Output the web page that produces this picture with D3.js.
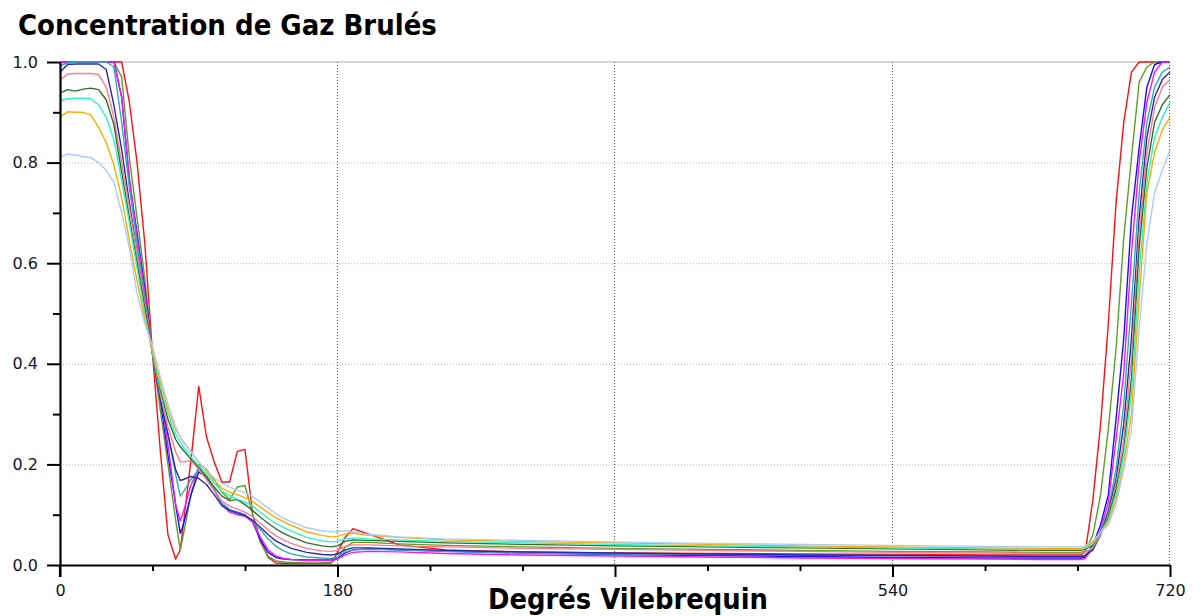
<!DOCTYPE html>
<html>
<head>
<meta charset="utf-8">
<script src="https://cdn.jsdelivr.net/npm/d3@7/dist/d3.min.js"></script>
<style>
  html, body { margin: 0; padding: 0; background: #fff; }
  svg { display: block; }
</style>
</head>
<body>
<svg id="chart" width="1200" height="616"></svg>
<script>
// Crank angle samples (degrees) shared by every curve
const degrees = [0,5,10,15,20,25,30,35,40,45,50,55,60,65,70,75,78,80,85,90,95,100,105,110,115,120,125,130,135,140,145,150,160,170,176,180,185,190,200,220,250,300,360,420,480,540,600,640,662,665,670,675,680,685,690,695,700,705,710,715,720];

// Burned gas concentration, one array per operating point
const serieRouge = [1,1,1,1,1,1,1,1,1,0.92,0.80,0.64,0.42,0.23,0.06,0.012,0.03,0.08,0.21,0.355,0.255,0.205,0.165,0.165,0.226,0.23,0.10,0.05,0.015,0.004,0.003,0.003,0.003,0.003,0.004,0.025,0.055,0.072,0.062,0.04,0.03,0.026,0.024,0.023,0.022,0.021,0.02,0.02,0.02,0.025,0.13,0.28,0.48,0.72,0.88,0.98,1,1,1,1,1];
const serieOlive = [1,1,1,1,1,1,1,1,0.97,0.81,0.69,0.57,0.42,0.31,0.20,0.09,0.03,0.06,0.14,0.20,0.19,0.17,0.145,0.13,0.155,0.158,0.10,0.045,0.017,0.008,0.006,0.005,0.004,0.004,0.005,0.015,0.035,0.045,0.045,0.042,0.039,0.036,0.033,0.031,0.029,0.027,0.026,0.025,0.025,0.027,0.06,0.14,0.27,0.43,0.65,0.81,0.96,0.99,1,1,1];
const serieBleu = [1,1,1,1,1,1,1,1,0.93,0.765,0.66,0.55,0.42,0.33,0.22,0.12,0.063,0.08,0.14,0.185,0.175,0.15,0.122,0.11,0.105,0.10,0.085,0.05,0.025,0.015,0.012,0.011,0.01,0.01,0.01,0.013,0.024,0.03,0.032,0.03,0.027,0.024,0.021,0.019,0.017,0.015,0.014,0.014,0.014,0.016,0.04,0.08,0.14,0.29,0.45,0.69,0.83,0.95,0.995,1,1];
const serieMagenta = [1,1,1,1,1,1,1,1,0.93,0.77,0.65,0.54,0.42,0.34,0.24,0.12,0.088,0.105,0.16,0.19,0.178,0.15,0.12,0.105,0.10,0.097,0.085,0.055,0.03,0.018,0.013,0.011,0.009,0.009,0.009,0.012,0.02,0.025,0.027,0.026,0.023,0.02,0.018,0.016,0.014,0.013,0.012,0.011,0.011,0.013,0.035,0.07,0.125,0.25,0.38,0.62,0.80,0.92,0.98,1,1];
const serieSarcelle = [0.993,0.998,1,1,1,1,1,0.99,0.88,0.75,0.64,0.53,0.42,0.33,0.26,0.18,0.137,0.145,0.17,0.19,0.178,0.152,0.122,0.11,0.104,0.10,0.088,0.07,0.052,0.037,0.028,0.022,0.016,0.014,0.013,0.016,0.026,0.03,0.031,0.03,0.027,0.024,0.022,0.021,0.02,0.019,0.018,0.017,0.017,0.019,0.035,0.065,0.11,0.19,0.32,0.52,0.74,0.88,0.95,0.98,0.99];
const serieMarine = [0.98,0.995,0.996,0.996,0.996,0.996,0.985,0.914,0.826,0.72,0.62,0.52,0.42,0.33,0.26,0.19,0.168,0.17,0.176,0.172,0.16,0.14,0.118,0.108,0.103,0.098,0.089,0.075,0.06,0.048,0.04,0.033,0.025,0.021,0.02,0.022,0.03,0.034,0.034,0.032,0.029,0.026,0.024,0.022,0.02,0.019,0.018,0.017,0.017,0.019,0.03,0.06,0.105,0.17,0.28,0.45,0.69,0.85,0.93,0.965,0.98];
const serieRose = [0.964,0.976,0.977,0.977,0.977,0.975,0.95,0.89,0.80,0.71,0.62,0.52,0.42,0.34,0.275,0.225,0.205,0.205,0.208,0.19,0.17,0.148,0.127,0.117,0.111,0.105,0.096,0.083,0.07,0.058,0.05,0.043,0.033,0.028,0.027,0.029,0.037,0.04,0.04,0.038,0.036,0.033,0.031,0.029,0.027,0.025,0.024,0.023,0.023,0.025,0.035,0.06,0.10,0.16,0.25,0.41,0.66,0.82,0.91,0.95,0.965];
const serieVertFonce = [0.938,0.945,0.942,0.946,0.948,0.945,0.925,0.875,0.78,0.69,0.60,0.51,0.42,0.35,0.29,0.25,0.235,0.228,0.21,0.195,0.175,0.155,0.137,0.128,0.13,0.12,0.108,0.095,0.083,0.072,0.063,0.056,0.044,0.038,0.036,0.038,0.047,0.05,0.049,0.047,0.044,0.041,0.038,0.036,0.034,0.032,0.03,0.029,0.029,0.031,0.04,0.065,0.095,0.15,0.23,0.37,0.63,0.79,0.88,0.915,0.935];
const serieAigue = [0.923,0.927,0.928,0.928,0.927,0.915,0.89,0.845,0.765,0.68,0.59,0.50,0.42,0.355,0.30,0.26,0.245,0.235,0.215,0.198,0.18,0.163,0.147,0.138,0.131,0.125,0.117,0.105,0.093,0.083,0.075,0.068,0.055,0.048,0.046,0.047,0.052,0.054,0.052,0.05,0.047,0.044,0.041,0.038,0.036,0.034,0.032,0.031,0.031,0.033,0.042,0.065,0.09,0.14,0.22,0.34,0.58,0.76,0.85,0.89,0.92];
const serieOrange = [0.891,0.901,0.90,0.90,0.895,0.87,0.84,0.795,0.73,0.645,0.565,0.49,0.425,0.365,0.31,0.27,0.255,0.245,0.225,0.205,0.185,0.168,0.153,0.145,0.14,0.134,0.126,0.115,0.104,0.094,0.086,0.079,0.066,0.059,0.056,0.057,0.062,0.063,0.059,0.055,0.05,0.047,0.044,0.041,0.038,0.036,0.034,0.033,0.033,0.035,0.045,0.065,0.085,0.13,0.20,0.30,0.53,0.74,0.82,0.865,0.89];
const serieBleuClair = [0.812,0.817,0.815,0.812,0.81,0.80,0.785,0.76,0.70,0.63,0.54,0.48,0.435,0.375,0.32,0.275,0.255,0.245,0.225,0.205,0.188,0.173,0.163,0.155,0.149,0.144,0.136,0.125,0.113,0.102,0.093,0.086,0.074,0.068,0.066,0.066,0.068,0.066,0.061,0.056,0.052,0.049,0.046,0.043,0.041,0.039,0.037,0.036,0.036,0.038,0.048,0.065,0.08,0.12,0.19,0.27,0.47,0.64,0.74,0.785,0.825];

const series = [serieRouge, serieOlive, serieBleu, serieMagenta, serieSarcelle, serieMarine, serieRose, serieVertFonce, serieAigue, serieOrange, serieBleuClair];
const seriesColors = ["#ff1010", "#5e9e2c", "#1010ff", "#ff10ff", "#2eb0b0", "#2a2aa8", "#ff7a8c", "#2f6e2f", "#2af5c2", "#ffaa00", "#a8ccff"];

const xMajorTicks = [0, 180, 360, 540, 720];
const xMinorTicks = [60, 120, 240, 300, 420, 480, 600, 660];
const xTickLabels = ["0", "180", "", "540", "720"];
const yMajorTicks = [0, 0.2, 0.4, 0.6, 0.8, 1.0];
const yMinorTicks = [0.1, 0.3, 0.5, 0.7, 0.9];
const yGridTicks = [0.2, 0.4, 0.6, 0.8];
const xGridTicks = [180, 360, 540, 720];

const titleText = "Concentration de Gaz Brulés";
const xAxisTitle = "Degrés Vilebrequin";

const svg = d3.select("#chart");
const plotLeft = 60, plotRight = 1170, plotTop = 62, plotBottom = 565;

const x = d3.scaleLinear().domain([0, 720]).range([plotLeft, plotRight]);
const y = d3.scaleLinear().domain([0, 1]).range([plotBottom, plotTop]);

// Grid
const grid = svg.append("g");
grid.selectAll("line.hgrid").data(yGridTicks).join("line")
  .attr("x1", plotLeft).attr("x2", plotRight)
  .attr("y1", d => y(d) + 0.5).attr("y2", d => y(d) + 0.5)
  .attr("stroke", "#b8b8b8").attr("stroke-width", 1).attr("stroke-dasharray", "1,2");
grid.append("line")
  .attr("x1", plotLeft).attr("x2", plotRight)
  .attr("y1", y(1)).attr("y2", y(1))
  .attr("stroke", "#c8c8c8").attr("stroke-width", 1.5);
grid.selectAll("line.vgrid").data(xGridTicks).join("line")
  .attr("x1", d => Math.round(x(d)) - 0.5).attr("x2", d => Math.round(x(d)) - 0.5)
  .attr("y1", plotTop).attr("y2", plotBottom)
  .attr("stroke", "#555").attr("stroke-width", 1).attr("stroke-dasharray", "1,2");

// Curves
const line = d3.line()
  .x((d, i) => x(degrees[i]))
  .y(d => y(d));
svg.append("g").selectAll("path").data(series).join("path")
  .attr("d", d => line(d))
  .attr("fill", "none")
  .attr("stroke", (d, i) => seriesColors[i])
  .attr("stroke-width", 1.4)
  .attr("stroke-linejoin", "round");

// Axes
const labelFont = "Tahoma, 'DejaVu Sans', sans-serif";
svg.append("g").attr("transform", `translate(0,${plotBottom})`)
  .call(d3.axisBottom(x).tickValues(xMajorTicks).tickSize(12).tickSizeOuter(0).tickPadding(8)
    .tickFormat((d, i) => xTickLabels[i]));
svg.append("g").attr("transform", `translate(0,${plotBottom})`)
  .call(d3.axisBottom(x).tickValues(xMinorTicks).tickSize(6).tickSizeOuter(0).tickFormat(""))
  .select(".domain").remove();
svg.append("g").attr("transform", `translate(${plotLeft},0)`)
  .call(d3.axisLeft(y).tickValues(yMajorTicks).tickSize(13).tickSizeOuter(0).tickPadding(9)
    .tickFormat(d3.format(".1f")));
svg.append("g").attr("transform", `translate(${plotLeft},0)`)
  .call(d3.axisLeft(y).tickValues(yMinorTicks).tickSize(7).tickSizeOuter(0).tickFormat(""))
  .select(".domain").remove();

svg.selectAll(".domain").attr("stroke", "#000").attr("stroke-width", 2.2);
svg.selectAll(".tick line").attr("stroke", "#000").attr("stroke-width", 2);
svg.selectAll(".tick text").attr("font-family", labelFont).attr("font-size", 16).attr("fill", "#14142a");

// Y axis continues slightly below the X axis
svg.append("line").attr("x1", plotLeft).attr("x2", plotLeft).attr("y1", plotBottom).attr("y2", plotBottom + 12)
  .attr("stroke", "#000").attr("stroke-width", 2.2);

// Titles, sized to their available width
const boldFont = "Tahoma, 'DejaVu Sans Condensed', 'DejaVu Sans', sans-serif";
function fitText(sel, width) {
  const w = sel.node().getComputedTextLength();
  const fs = parseFloat(sel.attr("font-size"));
  sel.attr("font-size", fs * width / w);
}
const title = svg.append("text").text(titleText)
  .attr("x", 18).attr("y", 35)
  .attr("font-family", boldFont).attr("font-weight", "bold").attr("font-size", 26).attr("fill", "#000");
fitText(title, 419);

const xTitle = svg.append("text").text(xAxisTitle)
  .attr("x", 628).attr("y", 609).attr("text-anchor", "middle")
  .attr("font-family", boldFont).attr("font-weight", "bold").attr("font-size", 28).attr("fill", "#000");
fitText(xTitle, 280);
</script>
</body>
</html>
